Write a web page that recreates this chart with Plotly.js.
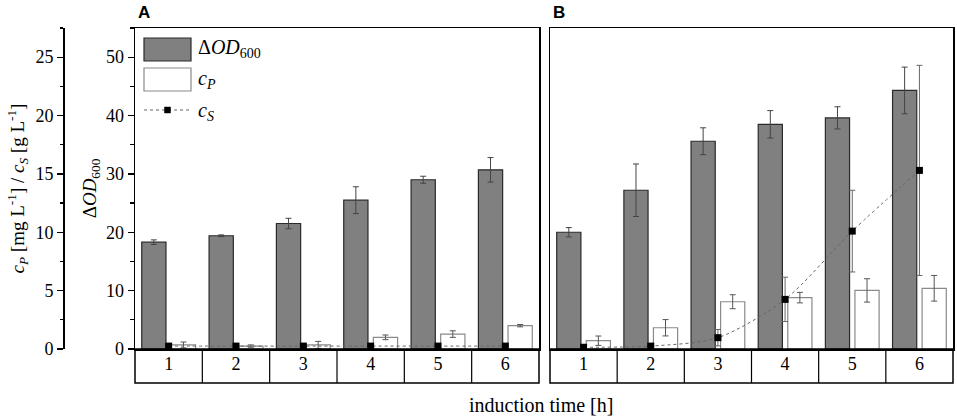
<!DOCTYPE html>
<html>
<head>
<meta charset="utf-8">
<script src="https://cdn.plot.ly/plotly-3.0.1.min.js"></script>
<style>html,body{margin:0;padding:0;background:#fff}#chart{width:957px;height:419px}</style>
</head>
<body>
<div id="chart"></div>
<script>
// ---- data ----
var categories = [1, 2, 3, 4, 5, 6];
var tickLabels = ["1", "2", "3", "4", "5", "6"];

// Panel A
var odA     = [18.3, 19.4, 21.5, 25.5, 29.0, 30.7];
var odAErr  = [0.4, 0.15, 0.9, 2.3, 0.6, 2.1];
var cpA     = [0.35, 0.25, 0.35, 1.0, 1.28, 2.0];
var cpAErr  = [0.25, 0.1, 0.3, 0.2, 0.28, 0.1];
var csA     = [0.25, 0.25, 0.25, 0.25, 0.25, 0.25];
var csAErr  = [0, 0, 0, 0, 0, 0];

// Panel B
var odB     = [20.0, 27.2, 35.6, 38.5, 39.6, 44.3];
var odBErr  = [0.8, 4.5, 2.3, 2.35, 1.9, 4.0];
var cpB     = [0.71, 1.82, 4.05, 4.4, 5.02, 5.2];
var cpBErr  = [0.4, 0.7, 0.6, 0.45, 1.0, 1.1];
var csB     = [0.15, 0.25, 0.97, 4.25, 10.1, 15.3];
var csBErr  = [0, 0, 0.7, 1.9, 3.5, 9.0];

// ---- helpers ----
var W = 957, H = 419;
function px(x) { return x / W; }
function py(y) { return 1 - y / H; }

var SERIF = "'Liberation Serif', 'Times New Roman', serif";
var grayFill = "#808080";

function odBar(y, err, xa, ya) {
  return {type: "bar", x: categories, y: y, xaxis: xa, yaxis: ya,
    offset: -0.40, width: 0.36,
    marker: {color: grayFill, line: {color: "#2a2a2a", width: 1.2}},
    error_y: {type: "data", array: err, visible: true, color: "#444", thickness: 1, width: 3},
    showlegend: false, hoverinfo: "x+y"};
}
function cpBar(y, err, xa, ya) {
  return {type: "bar", x: categories, y: y, xaxis: xa, yaxis: ya,
    offset: 0.04, width: 0.36,
    marker: {color: "#ffffff", line: {color: "#8a8a8a", width: 1.2}},
    error_y: {type: "data", array: err, visible: true, color: "#555", thickness: 1, width: 3},
    showlegend: false, hoverinfo: "x+y"};
}
function csLine(y, err, xa, ya) {
  return {type: "scatter", mode: "lines+markers", x: categories, y: y, xaxis: xa, yaxis: ya,
    line: {color: "#666", width: 1, dash: "dot", shape: "spline", smoothing: 0.8},
    marker: {symbol: "square", size: 7, color: "#000"},
    error_y: {type: "data", array: err, visible: true, color: "#666", thickness: 1, width: 3},
    showlegend: false, hoverinfo: "x+y"};
}

var data = [
  odBar(odA, odAErr, "x", "y"),
  cpBar(cpA, cpAErr, "x", "y2"),
  csLine(csA, csAErr, "x", "y2"),
  odBar(odB, odBErr, "x2", "y3"),
  cpBar(cpB, cpBErr, "x2", "y4"),
  csLine(csB, csBErr, "x2", "y4")
];

var yDom = [py(349), py(28)];
var domA = [px(135), px(539)];
var domB = [px(550), px(953)];

var tickFont = {family: SERIF, size: 18, color: "#000"};

function xAxis(dom, anchor) {
  return {domain: dom, anchor: anchor, range: [0.5, 6.5],
    tickmode: "array", tickvals: categories, ticktext: tickLabels,
    ticks: "", showline: true, linecolor: "#000", linewidth: 1.5, mirror: true,
    showgrid: false, zeroline: false, tickfont: tickFont, ticklabelstandoff: -2,
    fixedrange: true};
}

var layout = {
  width: W, height: H,
  margin: {l: 0, r: 0, t: 0, b: 0, pad: 0},
  paper_bgcolor: "#fff", plot_bgcolor: "rgba(0,0,0,0)",
  barmode: "overlay",
  showlegend: false,
  xaxis: xAxis(domA, "y"),
  xaxis2: xAxis(domB, "y3"),
  yaxis: {domain: yDom, anchor: "x", range: [0, 55],
    tickmode: "linear", tick0: 0, dtick: 10,
    ticks: "outside", ticklen: 6, tickwidth: 1.2, tickcolor: "#000",
    minor: {ticks: "outside", ticklen: 3.5, dtick: 5, tickwidth: 1.2, tickcolor: "#000"},
    showline: true, linecolor: "#000", linewidth: 1.5, mirror: true,
    showgrid: false, zeroline: false, tickfont: tickFont,
    title: {text: "Δ<i>OD</i><sub>600</sub>", font: {family: SERIF, size: 19, color: "#000"}, standoff: 4}},
  yaxis2: {overlaying: "y", anchor: "free", position: px(63), side: "left", range: [0, 27.5],
    tickmode: "linear", tick0: 0, dtick: 5,
    ticks: "outside", ticklen: 6, tickwidth: 1.2, tickcolor: "#000",
    minor: {ticks: "outside", ticklen: 3.5, dtick: 2.5, tickwidth: 1.2, tickcolor: "#000"},
    showline: true, linecolor: "#000", linewidth: 1.5,
    showgrid: false, zeroline: false, tickfont: tickFont,
    title: {text: "<i>c<sub>P</sub></i> [mg L<sup>-1</sup>] / <i>c<sub>S</sub></i> [g L<sup>-1</sup>]",
      font: {family: SERIF, size: 19, color: "#000"}, standoff: 4}},
  yaxis3: {domain: yDom, anchor: "x2", range: [0, 55],
    ticks: "", showticklabels: false,
    showline: true, linecolor: "#000", linewidth: 1.5, mirror: true,
    showgrid: false, zeroline: false},
  yaxis4: {overlaying: "y3", anchor: "x2", range: [0, 27.5], visible: false,
    showgrid: false, zeroline: false},
  shapes: [],
  annotations: []
};

// category boxes under each panel
var boxTop = py(349), boxBot = py(383);
[["x", domA], ["x2", domB]].forEach(function (p) {
  layout.shapes.push({type: "rect", xref: "paper", yref: "paper",
    x0: p[1][0], x1: p[1][1], y0: boxBot, y1: boxTop,
    line: {color: "#000", width: 1.5}, fillcolor: "rgba(0,0,0,0)"});
  for (var i = 0; i < categories.length - 1; i++) {
    var b = (categories[i] + categories[i + 1]) / 2;
    layout.shapes.push({type: "line", xref: p[0], yref: "paper",
      x0: b, x1: b, y0: boxBot, y1: boxTop, line: {color: "#000", width: 1.2}});
  }
});

// manual legend (panel A)
layout.shapes.push({type: "rect", xref: "paper", yref: "paper",
  x0: px(144), x1: px(191), y0: py(61), y1: py(38),
  fillcolor: grayFill, line: {color: "#2a2a2a", width: 1.2}});
layout.shapes.push({type: "rect", xref: "paper", yref: "paper",
  x0: px(144), x1: px(191), y0: py(91), y1: py(68),
  fillcolor: "#fff", line: {color: "#8a8a8a", width: 1.2}});
layout.shapes.push({type: "line", xref: "paper", yref: "paper",
  x0: px(144), x1: px(191), y0: py(110), y1: py(110),
  line: {color: "#666", width: 1, dash: "dot"}});
layout.shapes.push({type: "rect", xref: "paper", yref: "paper",
  x0: px(164.5), x1: px(170.5), y0: py(113), y1: py(107),
  fillcolor: "#000", line: {color: "#000", width: 0.5}});

var legFont = {family: SERIF, size: 20, color: "#000"};
layout.annotations.push(
  {xref: "paper", yref: "paper", x: px(196), y: py(49), xanchor: "left", yanchor: "middle",
   text: "Δ<i>OD</i><sub>600</sub>", showarrow: false, font: legFont},
  {xref: "paper", yref: "paper", x: px(196), y: py(80), xanchor: "left", yanchor: "middle",
   text: "<i>c<sub>P</sub></i>", showarrow: false, font: legFont},
  {xref: "paper", yref: "paper", x: px(196), y: py(111), xanchor: "left", yanchor: "middle",
   text: "<i>c<sub>S</sub></i>", showarrow: false, font: legFont},
  {xref: "paper", yref: "paper", x: px(136), y: py(13), xanchor: "left", yanchor: "middle",
   text: "<b>A</b>", showarrow: false, font: {family: "'Liberation Sans', Arial, sans-serif", size: 17, color: "#000"}},
  {xref: "paper", yref: "paper", x: px(551), y: py(13), xanchor: "left", yanchor: "middle",
   text: "<b>B</b>", showarrow: false, font: {family: "'Liberation Sans', Arial, sans-serif", size: 17, color: "#000"}},
  {xref: "paper", yref: "paper", x: px(541), y: py(405), xanchor: "center", yanchor: "middle",
   text: "induction time [h]", showarrow: false, font: {family: SERIF, size: 20, color: "#000"}}
);

Plotly.newPlot("chart", data, layout, {displayModeBar: false, staticPlot: true});
</script>
</body>
</html>
